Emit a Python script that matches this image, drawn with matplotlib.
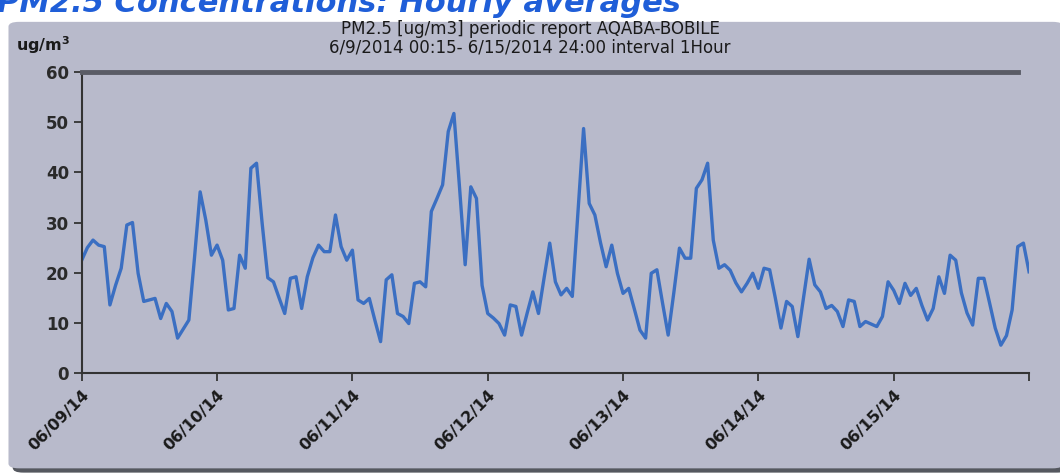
import numpy as np
import matplotlib.pyplot as plt
from matplotlib.patches import FancyBboxPatch

# hourly PM2.5 values, 6/9/2014 00:15 .. 6/15/2014 24:00
pm25 = [
    22.5, 25.0, 26.5, 25.5, 25.2, 13.6, 17.5, 20.9, 29.5, 30.0, 19.9, 14.3,
    14.6, 14.9, 10.9, 13.9, 12.3, 7.0, 8.8, 10.6, 23.0, 36.1, 30.5, 23.5,
    25.5, 22.5, 12.6, 12.9, 23.5, 20.9, 40.8, 41.8, 29.8, 19.0, 18.2, 15.0,
    11.9, 18.9, 19.2, 12.9, 19.2, 23.0, 25.5, 24.2, 24.2, 31.5, 25.2, 22.5,
    24.5, 14.6, 13.9, 14.9, 10.5, 6.3, 18.6, 19.6, 11.9, 11.3, 9.9, 17.9,
    18.2, 17.2, 32.2, 34.8, 37.5, 48.1, 51.7, 37.0, 21.6, 37.1, 34.8, 17.5,
    11.9, 11.0, 9.9, 7.6, 13.6, 13.3, 7.6, 12.0, 16.2, 11.9, 19.0, 25.9,
    18.2, 15.6, 16.9, 15.3, 32.0, 48.7, 33.8, 31.5, 26.0, 21.2, 25.5, 19.9,
    15.9, 16.9, 12.8, 8.6, 7.0, 19.9, 20.6, 14.0, 7.6, 16.0, 24.9, 22.9,
    22.9, 36.8, 38.5, 41.8, 26.5, 20.9, 21.6, 20.5, 18.0, 16.2, 17.9, 19.9,
    16.9, 20.9, 20.6, 15.0, 9.0, 14.3, 13.3, 7.3, 15.0, 22.7, 17.6, 16.2,
    12.9, 13.5, 12.3, 9.3, 14.6, 14.3, 9.3, 10.3, 9.8, 9.3, 11.3, 18.2,
    16.5, 13.9, 17.9, 15.5, 16.9, 13.5, 10.6, 12.9, 19.2, 15.9, 23.5, 22.5,
    16.0, 12.0, 9.6, 18.9, 18.9, 14.0, 9.0, 5.6, 7.5, 12.6, 25.2, 25.9,
    20.2,
]
day_labels = ['06/09/14', '06/10/14', '06/11/14', '06/12/14',
              '06/13/14', '06/14/14', '06/15/14', '']
y_ticks = [0, 10, 20, 30, 40, 50, 60]

hours = np.arange(len(pm25))
bg = '#b8bacb'

fig = plt.figure(figsize=(10.6, 4.75), dpi=100)
fig.patch.set_facecolor('white')

# grey chart area with a dark shadow at the bottom (behind the axes)
fig.patches.append(FancyBboxPatch((0.012, 0.005), 0.995, 0.945,
                                  boxstyle='round,pad=0,rounding_size=0.01',
                                  transform=fig.transFigure, facecolor='#55585f',
                                  edgecolor='none', zorder=-2))
fig.patches.append(FancyBboxPatch((0.008, 0.014), 0.995, 0.94,
                                  boxstyle='round,pad=0,rounding_size=0.01',
                                  transform=fig.transFigure, facecolor=bg,
                                  edgecolor='none', zorder=-1))

# slide heading, cut off at the top and tucked under the chart area
fig.text(-0.003, 0.975, 'PM2.5 Concentrations: Hourly averages', color='#1f5ed8',
         fontsize=22, fontweight='bold', style='italic', va='baseline', ha='left',
         zorder=-3)

ax = fig.add_axes([0.0771, 0.2141, 0.8937, 0.6349])
ax.set_facecolor(bg)
ax.plot(hours, pm25, color='#3b6fc2', linewidth=2.4)

ax.set_xlim(0, 168)
ax.set_ylim(0, 60)
ax.set_xticks(np.arange(0, 169, 24))
ax.set_xticklabels(day_labels, rotation=45, ha='right', rotation_mode='anchor',
                   fontsize=11.5, fontweight='bold', color='#1a1a1a')
ax.set_yticks(y_ticks)
ax.set_yticklabels([str(v) for v in y_ticks], fontsize=12, fontweight='bold',
                   color='#2a2a2a')
ax.tick_params(axis='x', direction='out', length=6, width=1.3, color='#333333', pad=4)
ax.tick_params(axis='y', direction='out', length=6, width=1.3, color='#333333', pad=3)

ax.spines['right'].set_visible(False)
ax.spines['left'].set_color('#333333')
ax.spines['left'].set_linewidth(1.5)
ax.spines['bottom'].set_color('#333333')
ax.spines['bottom'].set_linewidth(1.5)
ax.spines['top'].set_color('#5a5c66')
ax.spines['top'].set_linewidth(3.5)
ax.spines['top'].set_bounds(0, 166)

fig.text(0.5, 0.938, 'PM2.5 [ug/m3] periodic report AQABA-BOBILE',
         ha='center', va='center', fontsize=12, color='#1a1a1a')
fig.text(0.5, 0.899, '6/9/2014 00:15- 6/15/2014 24:00 interval 1Hour',
         ha='center', va='center', fontsize=12, color='#1a1a1a')
fig.text(0.041, 0.906, 'ug/m$^\\mathbf{3}$', ha='center', va='center', fontsize=11.5,
         fontweight='bold', color='#1a1a1a')

fig.savefig('out.png', dpi=100, facecolor=fig.get_facecolor())
